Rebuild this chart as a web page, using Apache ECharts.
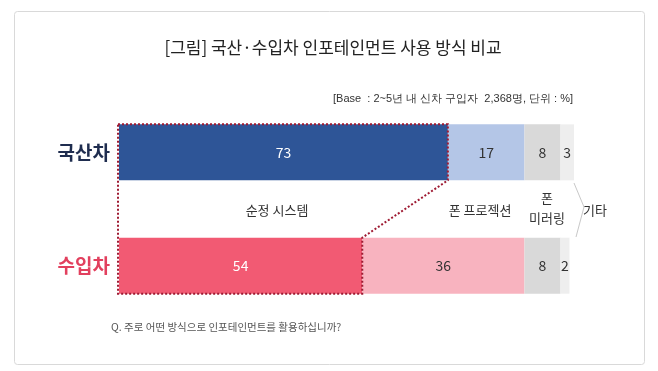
<!DOCTYPE html>
<html><head><meta charset="utf-8">
<script src="https://cdn.jsdelivr.net/npm/echarts@6/dist/echarts.min.js"></script>
<style>html,body{margin:0;padding:0;background:#fff}#c{width:658px;height:371px}</style>
</head><body><div id="c"></div>
<script>
// categories (bottom to top), middle empty row holds the segment names
const categories = ['수입차', '', '국산차'];
const segmentNames = ['순정 시스템', '폰 프로젝션', '폰\n미러링', '기타'];
// values per segment: [수입차, (gap), 국산차]
const seg1 = [54, null, 73];
const seg2 = [36, null, 17];
const seg3 = [8, null, 8];
const seg4 = [2, null, 3];
const titleText = '[그림] 국산·수입차 인포테인먼트 사용 방식 비교';
const baseText = '[Base  : 2~5년 내 신차 구입자  2,368명, 단위 : %]';
const questionText = 'Q. 주로 어떤 방식으로 인포테인먼트를 활용하십니까?';

const FONT = '"Noto Sans CJK KR", "Noto Sans", sans-serif';
const colors = {
  seg1: ['#f25a73', '#2e5597'],
  seg2: ['#f8b3bf', '#b4c6e7'],
  seg3: ['#d9d9d9', '#d9d9d9'],
  seg4: ['#eeeeee', '#eeeeee']
};
function mk(vals, cols, labelColor) {
  return vals.map((v, i) => v == null ? null : {
    value: v,
    itemStyle: { color: i === 0 ? cols[0] : cols[1] }
  });
}
function barSeries(name, vals, cols, labelColor) {
  return {
    name, type: 'bar', stack: 'all', barWidth: 56,
    data: mk(vals, cols),
    label: { show: true, position: 'inside', color: labelColor, fontSize: 14, fontFamily: FONT },
    emphasis: { disabled: true }, silent: true
  };
}

const chart = echarts.init(document.getElementById('c'), null, { renderer: 'canvas' });
chart.setOption({
  animation: false,
  backgroundColor: '#fff',
  title: {
    text: titleText, left: 328, top: 34, textAlign: 'center',
    textStyle: { fontSize: 17, fontWeight: 'normal', color: '#222', fontFamily: FONT }
  },
  grid: { left: 119, right: 84, top: 124, bottom: 77 },
  xAxis: { type: 'value', min: 0, max: 101, show: false },
  yAxis: {
    type: 'category',
    data: [
      { value: categories[0], textStyle: { color: '#e2405e' } },
      { value: categories[1] },
      { value: categories[2], textStyle: { color: '#1f2d4f' } }
    ],
    axisLine: { show: false }, axisTick: { show: false },
    axisLabel: { fontSize: 19, fontWeight: 'bold', margin: 9, fontFamily: FONT }
  },
  series: [
    barSeries('순정 시스템', seg1, colors.seg1, '#ffffff'),
    barSeries('폰 프로젝션', seg2, colors.seg2, '#333333'),
    barSeries('폰 미러링', seg3, colors.seg3, '#333333'),
    barSeries('기타', seg4, colors.seg4, '#333333'),
    {
      type: 'custom', silent: true, z: 10,
      data: [[0]],
      renderItem: function (params, api) {
        const top = api.coord([0, 2]);
        const topEnd = api.coord([seg1[2], 2]);
        const bot = api.coord([0, 0]);
        const botEnd = api.coord([seg1[0], 0]);
        const h = 28;
        const pts = [
          [top[0] - 1, top[1] - h], [topEnd[0], top[1] - h], [topEnd[0], top[1] + h],
          [botEnd[0], bot[1] - h], [botEnd[0], bot[1] + h], [bot[0] - 1, bot[1] + h]
        ];
        return {
          type: 'polygon',
          shape: { points: pts },
          style: { fill: 'none', stroke: '#9e1a32', lineWidth: 2, lineDash: [2, 2] }
        };
      }
    }
  ],
  graphic: [
    { type: 'rect', left: 12, top: 9, shape: { width: 630, height: 353, r: 3 },
      style: { fill: 'none', stroke: '#d9d9d9', lineWidth: 1 }, silent: true },
    { type: 'text', x: 573, y: 99, style: { text: baseText, align: 'right', verticalAlign: 'middle',
      fontSize: 11, fill: '#333', font: '11px ' + FONT } },
    { type: 'text', x: 111, y: 327, style: { text: questionText, align: 'left', verticalAlign: 'middle',
      fill: '#555', font: '10.5px ' + FONT } },
    { type: 'text', x: 277, y: 210, style: { text: segmentNames[0], align: 'center', verticalAlign: 'middle',
      fill: '#333', font: '13px ' + FONT } },
    { type: 'text', x: 480, y: 210, style: { text: segmentNames[1], align: 'center', verticalAlign: 'middle',
      fill: '#333', font: '13px ' + FONT } },
    { type: 'text', x: 547, y: 208, style: { text: segmentNames[2], align: 'center', verticalAlign: 'middle',
      fill: '#333', font: '13px ' + FONT, lineHeight: 20 } },
    { type: 'text', x: 595, y: 210, style: { text: segmentNames[3], align: 'center', verticalAlign: 'middle',
      fill: '#333', font: '13px ' + FONT } },
    { type: 'polyline', shape: { points: [[574, 183], [584, 207], [576, 237]] },
      style: { stroke: '#c8c8c8', lineWidth: 1, fill: 'none' }, silent: true }
  ]
});
</script></body></html>
